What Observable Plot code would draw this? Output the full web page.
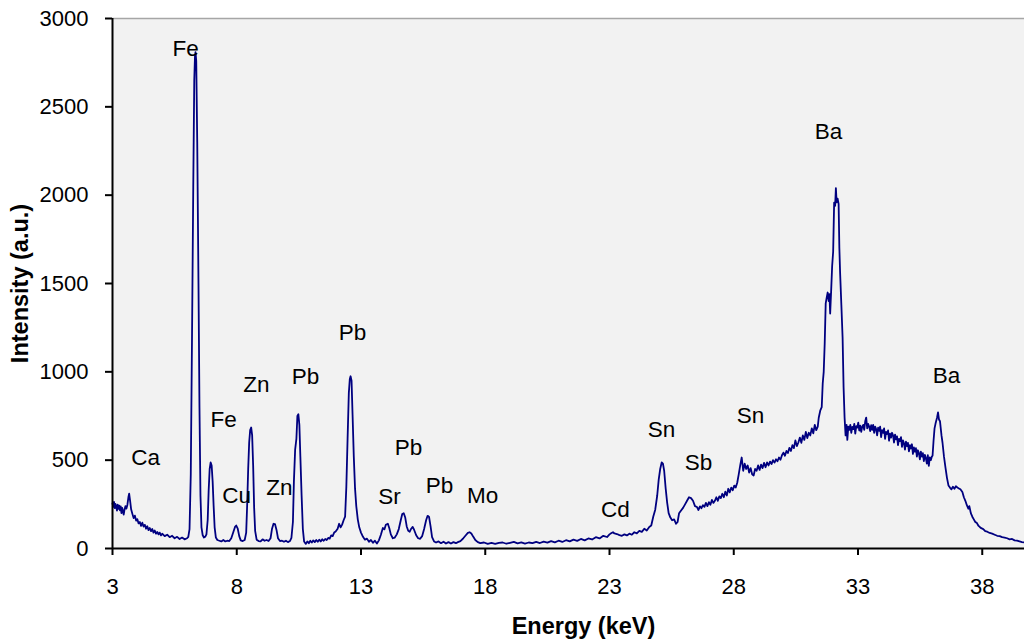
<!DOCTYPE html>
<html>
<head>
<meta charset="utf-8">
<script src="https://cdn.jsdelivr.net/npm/d3@7"></script>
<script src="https://cdn.jsdelivr.net/npm/@observablehq/plot@0.6"></script>
<style>
  html, body { margin: 0; padding: 0; background: white; }
</style>
</head>
<body>
<div id="chart"></div>
<script>
const xTicks = [3, 8, 13, 18, 23, 28, 33, 38];
const yTicks = [0, 500, 1000, 1500, 2000, 2500, 3000];

const labelNames = ["Fe", "Ca", "Fe", "Cu", "Zn", "Zn", "Pb", "Pb", "Sr", "Pb", "Pb", "Mo", "Cd", "Sn", "Sb", "Sn", "Ba", "Ba"];
const labelEnergy = [5.94, 4.33, 7.47, 7.99, 8.79, 9.72, 10.77, 12.66, 14.15, 14.91, 16.16, 17.89, 23.24, 25.09, 26.58, 28.67, 31.81, 36.56];
const labelIntensity = [2830, 515, 730, 300, 928, 345, 973, 1222, 294, 572, 357, 300, 221, 674, 487, 753, 2360, 979];

const spectrum = [
[3.00,255],[3.03,236],[3.06,264],[3.09,228],[3.12,252],[3.15,240],[3.18,214],[3.21,248],[3.24,225],[3.27,242],
[3.30,216],[3.33,238],[3.36,200],[3.39,230],[3.42,210],[3.45,192],[3.48,218],[3.52,240],[3.56,226],[3.60,248],
[3.64,290],[3.67,311],[3.71,268],[3.75,222],[3.80,196],[3.85,172],[3.90,186],[3.95,158],[4.00,166],[4.05,142],
[4.10,150],[4.15,128],[4.20,146],[4.25,124],[4.30,134],[4.35,112],[4.40,126],[4.45,104],[4.50,116],[4.55,98],
[4.60,110],[4.65,90],[4.70,102],[4.75,84],[4.80,94],[4.85,80],[4.90,90],[4.95,74],[5.00,84],[5.10,70],
[5.20,78],[5.30,64],[5.40,72],[5.50,58],[5.60,66],[5.70,54],[5.80,62],[5.90,52],[6.00,58],[6.05,66],
[6.10,110],[6.15,420],[6.20,1200],[6.25,2050],[6.29,2650],[6.32,2790],[6.34,2810],[6.37,2760],[6.41,2300],[6.46,1500],
[6.50,800],[6.54,300],[6.58,120],[6.63,75],[6.68,62],[6.73,66],[6.78,80],[6.83,160],[6.87,330],[6.91,450],
[6.95,487],[6.99,470],[7.03,380],[7.07,240],[7.11,120],[7.16,62],[7.22,48],[7.30,44],[7.38,40],[7.46,48],
[7.54,40],[7.62,44],[7.70,42],[7.78,58],[7.86,92],[7.93,122],[7.98,130],[8.04,112],[8.10,70],[8.16,46],
[8.24,42],[8.32,48],[8.38,90],[8.42,250],[8.46,450],[8.50,600],[8.54,670],[8.58,685],[8.62,640],[8.66,470],
[8.70,230],[8.74,100],[8.80,50],[8.88,42],[8.96,40],[9.04,52],[9.12,44],[9.20,48],[9.28,42],[9.36,58],
[9.42,112],[9.48,140],[9.54,138],[9.60,105],[9.66,58],[9.74,42],[9.82,44],[9.90,38],[9.98,44],[10.06,36],
[10.14,42],[10.20,60],[10.26,150],[10.30,380],[10.35,560],[10.40,620],[10.44,750],[10.48,760],[10.52,700],[10.56,520],
[10.61,300],[10.66,110],[10.71,40],[10.78,26],[10.84,40],[10.90,30],[10.96,44],[11.02,34],[11.08,46],[11.14,36],
[11.20,48],[11.26,38],[11.32,50],[11.38,40],[11.44,52],[11.50,44],[11.56,54],[11.62,48],[11.68,60],[11.74,56],
[11.80,74],[11.86,70],[11.92,90],[11.98,96],[12.06,112],[12.12,140],[12.18,120],[12.24,135],[12.30,160],[12.36,180],
[12.41,350],[12.46,620],[12.51,880],[12.55,960],[12.58,975],[12.62,950],[12.66,760],[12.71,520],[12.76,340],[12.81,240],
[12.87,165],[12.93,120],[13.00,90],[13.08,66],[13.16,50],[13.24,56],[13.32,38],[13.40,48],[13.48,32],[13.56,44],
[13.64,28],[13.72,46],[13.80,78],[13.88,116],[13.94,108],[14.00,134],[14.08,140],[14.14,115],[14.20,80],[14.28,58],
[14.36,62],[14.44,80],[14.52,110],[14.60,160],[14.66,195],[14.72,200],[14.78,175],[14.84,125],[14.90,100],[14.96,95],
[15.02,112],[15.08,122],[15.14,105],[15.22,75],[15.30,58],[15.38,55],[15.46,70],[15.54,110],[15.62,160],[15.68,185],
[15.74,178],[15.80,125],[15.86,65],[15.94,40],[16.02,34],[16.12,40],[16.22,30],[16.32,38],[16.42,28],[16.52,36],
[16.62,28],[16.72,36],[16.82,30],[16.90,36],[17.00,42],[17.10,55],[17.20,72],[17.30,88],[17.37,92],[17.44,85],
[17.52,66],[17.60,48],[17.70,36],[17.80,30],[17.95,34],[18.10,26],[18.25,32],[18.40,26],[18.55,32],[18.70,34],
[18.85,27],[19.00,32],[19.15,37],[19.30,29],[19.45,35],[19.60,28],[19.75,34],[19.90,30],[20.05,38],[20.20,31],
[20.35,39],[20.50,33],[20.65,42],[20.80,35],[20.95,44],[21.10,37],[21.25,47],[21.40,40],[21.55,50],[21.70,43],
[21.85,54],[22.00,46],[22.15,57],[22.30,51],[22.45,64],[22.60,57],[22.75,72],[22.90,65],[23.00,80],[23.08,88],
[23.14,92],[23.20,85],[23.30,82],[23.40,76],[23.50,72],[23.60,80],[23.70,74],[23.80,84],[23.90,78],[24.00,92],
[24.10,86],[24.20,100],[24.30,94],[24.40,112],[24.50,102],[24.60,122],[24.68,130],[24.76,180],[24.84,220],[24.92,300],
[24.98,390],[25.04,450],[25.10,487],[25.15,480],[25.20,440],[25.26,340],[25.32,260],[25.38,200],[25.45,175],[25.52,160],
[25.60,165],[25.68,140],[25.74,150],[25.80,200],[25.88,215],[25.96,230],[26.04,250],[26.12,270],[26.20,290],[26.28,285],
[26.36,270],[26.44,240],[26.52,235],[26.58,218],[26.64,238],[26.70,228],[26.76,245],[26.82,236],[26.88,258],[26.94,240],
[27.00,262],[27.06,248],[27.12,275],[27.18,258],[27.24,270],[27.30,290],[27.36,270],[27.42,295],[27.48,285],[27.54,310],
[27.60,290],[27.66,322],[27.72,300],[27.78,338],[27.84,318],[27.90,345],[27.96,330],[28.02,356],[28.08,345],[28.14,372],
[28.20,420],[28.26,470],[28.32,515],[28.38,440],[28.44,480],[28.50,450],[28.56,470],[28.62,430],[28.68,455],[28.74,420],
[28.80,413],[28.86,450],[28.92,440],[28.98,470],[29.04,445],[29.10,475],[29.16,455],[29.22,485],[29.28,460],[29.34,487],
[29.40,470],[29.46,492],[29.52,478],[29.58,500],[29.64,486],[29.70,505],[29.76,494],[29.82,515],[29.88,502],[29.94,528],
[30.00,543],[30.06,525],[30.12,552],[30.18,540],[30.24,570],[30.30,552],[30.36,585],[30.42,568],[30.48,612],[30.54,580],
[30.60,600],[30.66,628],[30.72,598],[30.78,640],[30.84,615],[30.90,660],[30.96,625],[31.02,655],[31.08,640],[31.14,680],
[31.20,652],[31.26,700],[31.32,670],[31.38,690],[31.42,740],[31.48,780],[31.54,800],[31.58,934],[31.62,1000],[31.66,1160],
[31.70,1387],[31.74,1420],[31.78,1449],[31.82,1400],[31.85,1440],[31.88,1330],[31.92,1460],[31.96,1600],[32.00,1680],[32.04,1958],
[32.08,1940],[32.11,2040],[32.14,1960],[32.18,1980],[32.22,1950],[32.25,1700],[32.28,1560],[32.33,1380],[32.38,1194],[32.42,911],
[32.46,741],[32.50,640],[32.54,700],[32.57,615],[32.61,690],[32.65,672],[32.69,700],[32.73,655],[32.77,688],[32.81,676],
[32.85,705],[32.89,650],[32.93,692],[32.97,684],[33.01,712],[33.05,668],[33.09,695],[33.13,660],[33.17,690],[33.21,700],
[33.25,672],[33.29,720],[33.33,741],[33.37,680],[33.41,705],[33.45,690],[33.49,665],[33.53,698],[33.57,672],[33.61,700],
[33.65,655],[33.69,690],[33.73,676],[33.77,640],[33.81,684],[33.85,666],[33.89,690],[33.93,630],[33.97,670],[34.01,655],
[34.05,680],[34.09,620],[34.13,660],[34.17,648],[34.21,668],[34.25,610],[34.29,650],[34.33,628],[34.37,655],[34.41,640],
[34.45,600],[34.49,645],[34.53,618],[34.57,635],[34.61,585],[34.65,620],[34.69,608],[34.73,630],[34.77,575],[34.81,612],
[34.85,596],[34.89,560],[34.93,605],[34.97,580],[35.01,598],[35.05,550],[35.09,585],[35.13,566],[35.17,590],[35.21,535],
[35.25,572],[35.29,548],[35.33,568],[35.37,520],[35.41,556],[35.45,540],[35.49,505],[35.53,548],[35.57,520],[35.61,540],
[35.65,495],[35.69,530],[35.73,512],[35.77,480],[35.81,528],[35.85,468],[35.89,515],[35.93,500],[35.97,520],[36.00,525],
[36.04,610],[36.08,680],[36.12,707],[36.18,740],[36.22,770],[36.26,730],[36.30,720],[36.36,640],[36.40,600],[36.46,520],
[36.52,458],[36.58,400],[36.64,357],[36.70,345],[36.76,335],[36.82,350],[36.88,338],[36.94,352],[37.00,345],[37.06,340],
[37.12,335],[37.20,320],[37.26,290],[37.32,270],[37.38,245],[37.44,225],[37.48,240],[37.54,200],[37.60,180],[37.66,165],
[37.72,150],[37.78,145],[37.84,130],[37.90,122],[37.96,115],[38.04,110],[38.12,98],[38.20,95],[38.30,88],[38.40,84],
[38.50,78],[38.60,72],[38.70,70],[38.80,64],[38.90,62],[39.00,58],[39.10,52],[39.20,54],[39.30,46],[39.40,44],
[39.50,40],[39.60,36],[39.70,34]
];

const labels = labelNames.map((name, i) => ({name, e: labelEnergy[i], v: labelIntensity[i]}));
const font = "'Liberation Sans', Arial, Helvetica, sans-serif";

const chart = Plot.plot({
  width: 1024,
  height: 641,
  marginTop: 18,
  marginRight: 0,
  marginBottom: 93,
  marginLeft: 112,
  style: {fontFamily: font, fontSize: "22px", background: "white", color: "black", overflow: "visible"},
  x: {domain: [3, 39.7]},
  y: {domain: [0, 3000]},
  marks: [
    Plot.frame({fill: "#f2f2f2", stroke: null}),
    Plot.ruleY([3000], {stroke: "#a6a6a6", strokeWidth: 1.5}),
    Plot.line(spectrum, {x: d => d[0], y: d => d[1], stroke: "#000080", strokeWidth: 1.8}),
    Plot.text(labels, {x: "e", y: "v", text: "name", fontSize: 22.5, fill: "black"}),
    Plot.axisX({ticks: xTicks, tickSize: 7, tickPadding: 23, label: null, strokeWidth: 2, fontSize: 22, tickFormat: d => String(d)}),
    Plot.axisY({ticks: yTicks, tickSize: 7, tickPadding: 17, label: null, strokeWidth: 2, fontSize: 22, tickFormat: d => String(d)}),
    Plot.ruleX([3], {stroke: "black", strokeWidth: 2}),
    Plot.ruleY([0], {stroke: "black", strokeWidth: 2}),
    Plot.text(["Energy (keV)"], {frameAnchor: "bottom", textAnchor: "middle", lineAnchor: "middle", dx: 15, dy: 78, fontWeight: "bold", fontSize: 23.5, fill: "black"}),
    Plot.text(["Intensity (a.u.)"], {frameAnchor: "left", textAnchor: "middle", lineAnchor: "middle", rotate: -90, dx: -92, fontWeight: "bold", fontSize: 23.5, fill: "black"})
  ]
});
document.getElementById("chart").appendChild(chart);
</script>
</body>
</html>
